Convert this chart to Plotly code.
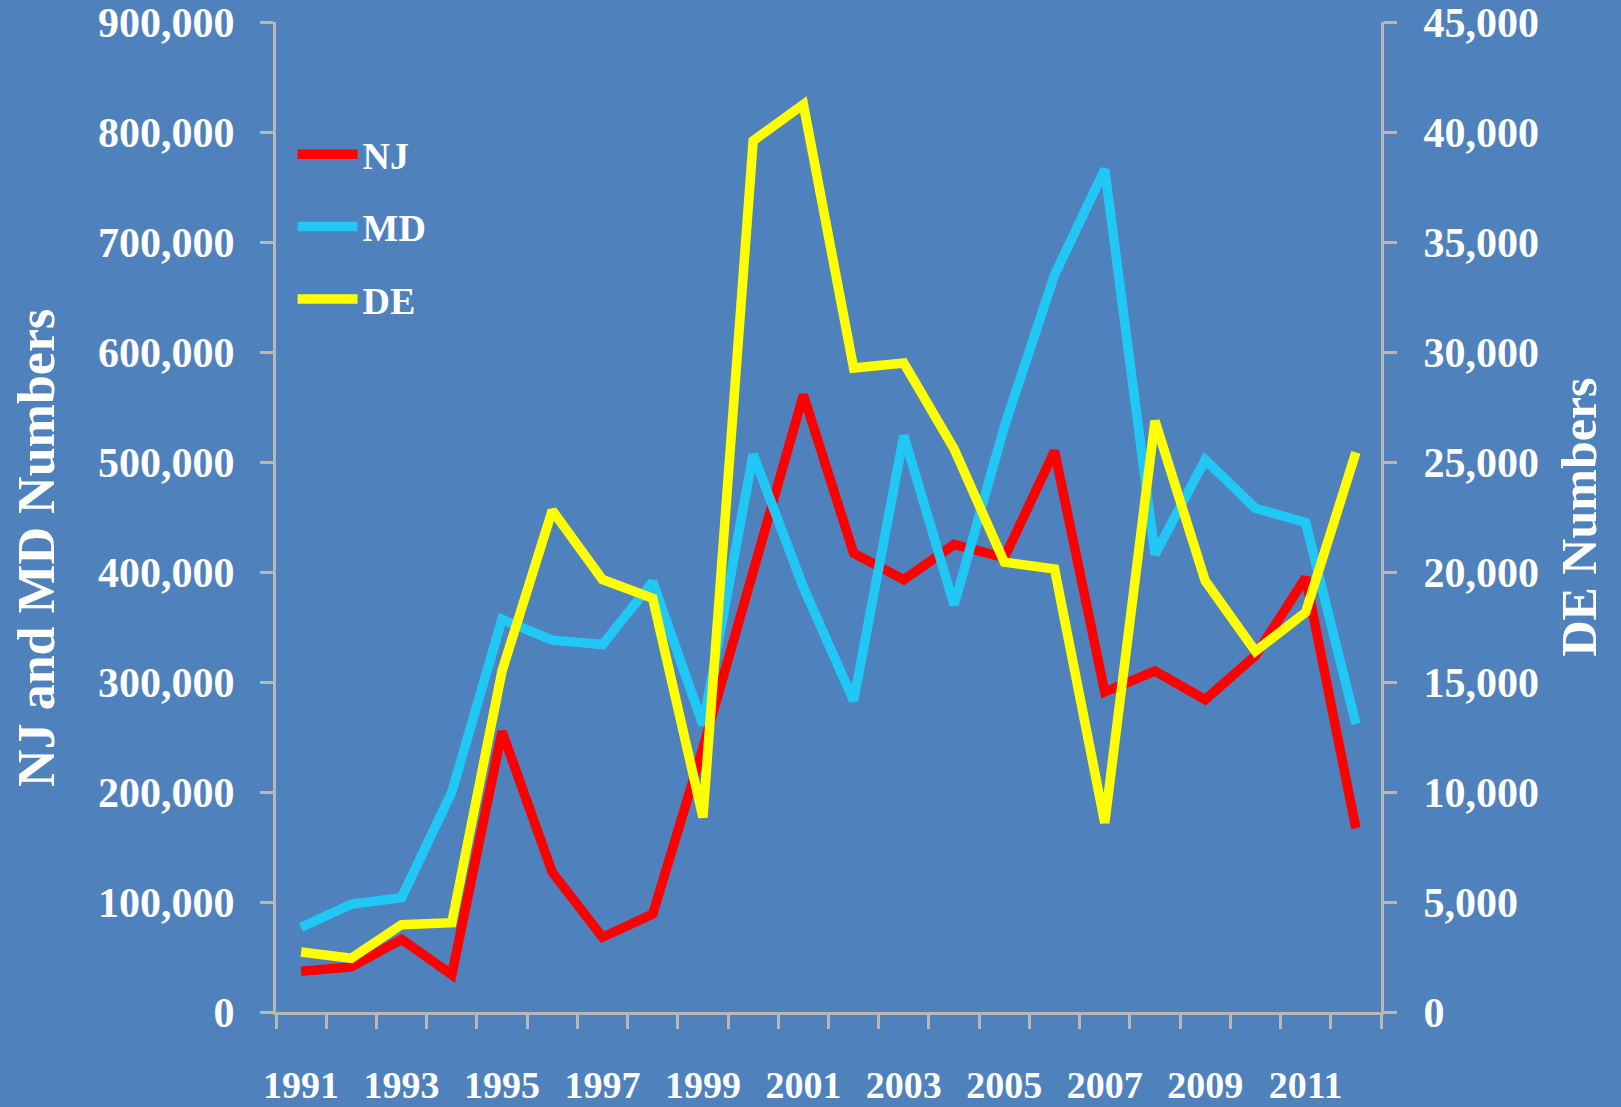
import plotly.graph_objects as go

years = list(range(1991, 2013))

nj = [37000, 41000, 66000, 34000, 255000, 127000, 68000, 89000, 240000, 400000,
      561000, 417000, 393000, 425000, 413000, 510000, 291000, 310000, 284000, 324000,
      395000, 167000]
md = [77000, 98000, 104000, 200000, 357000, 338000, 334000, 391000, 261000, 507000,
      386000, 283000, 524000, 370000, 532000, 670000, 766000, 416000, 502000, 458000,
      445000, 262000]
de = [2730, 2440, 3970, 4060, 15500, 22800, 19660, 18800, 8850, 39600,
      41250, 29270, 29500, 25600, 20450, 20140, 8600, 26870, 19600, 16400,
      18170, 25440]

label_years = [y for y in years if y % 2 == 1]
left_ticks = list(range(0, 900001, 100000))
right_ticks = list(range(0, 45001, 5000))

bg = '#4F81BD'
axis_grey = '#B7B7B7'
font_family = 'Liberation Serif'

fig = go.Figure()

fig.add_trace(go.Scatter(x=years, y=nj, name='NJ', mode='lines',
                         line=dict(color='#FF0000', width=9.5), legendgroup='nj'))
fig.add_trace(go.Scatter(x=years, y=md, name='MD', mode='lines',
                         line=dict(color='#22C8F5', width=9.5), legendgroup='md'))
fig.add_trace(go.Scatter(x=years, y=de, name='DE', mode='lines', yaxis='y2',
                         line=dict(color='#FFFF00', width=9.5), legendgroup='de'))

fig.update_layout(
    width=1621,
    height=1107,
    paper_bgcolor=bg,
    plot_bgcolor=bg,
    margin=dict(l=276, r=240, t=22, b=95),
    font=dict(family=font_family, color='white'),
    showlegend=True,
    legend=dict(
        x=0.015, y=0.898, xanchor='left', yanchor='top',
        bgcolor='rgba(0,0,0,0)',
        font=dict(size=38, family=font_family, color='white', weight='bold'),
        tracegroupgap=20,
        itemwidth=60,
    ),
    xaxis=dict(
        range=[1990.5, 2012.5],
        tickmode='array',
        tickvals=label_years,
        ticktext=[str(y) for y in label_years],
        ticks='',
        ticklabelstandoff=37,
        tickfont=dict(size=38, family=font_family, color='white', weight='bold'),
        showline=True, linecolor=axis_grey, linewidth=3,
        showgrid=False, zeroline=False,
        automargin=False,
        ticklabeloverflow='allow',
        minor=dict(tickmode='array', tickvals=[y - 0.5 for y in years] + [years[-1] + 0.5],
                   ticks='outside', ticklen=14, tickwidth=3, tickcolor=axis_grey,
                   showgrid=False),
    ),
    yaxis=dict(
        range=[0, 900000],
        tickmode='array',
        tickvals=left_ticks,
        ticktext=[f'{v:,}' for v in left_ticks],
        ticks='outside', ticklen=13, tickwidth=3, tickcolor=axis_grey,
        ticklabelstandoff=17,
        tickfont=dict(size=42, family=font_family, color='white', weight='bold'),
        showline=True, linecolor=axis_grey, linewidth=3,
        showgrid=False, zeroline=False,
        automargin=False,
        ticklabeloverflow='allow',
    ),
    yaxis2=dict(
        range=[0, 45000],
        overlaying='y', side='right',
        tickmode='array',
        tickvals=right_ticks,
        ticktext=[f'{v:,}' for v in right_ticks],
        ticks='outside', ticklen=13, tickwidth=3, tickcolor=axis_grey,
        ticklabelstandoff=18,
        tickfont=dict(size=42, family=font_family, color='white', weight='bold'),
        showline=True, linecolor=axis_grey, linewidth=3,
        showgrid=False, zeroline=False,
        automargin=False,
        ticklabeloverflow='allow',
        title=dict(text='DE Numbers', standoff=24,
                   font=dict(size=50, family=font_family, color='white', weight='bold')),
    ),
    annotations=[dict(
        text='NJ and MD Numbers', textangle=-90,
        xref='paper', yref='paper', x=-0.217, y=0.469,
        xanchor='center', yanchor='middle', showarrow=False,
        font=dict(size=52, family=font_family, color='white', weight='bold'),
    )],
)

fig.write_html("out.html", config={'displayModeBar': False},
               post_script="document.body.style.margin='0';document.body.style.overflow='hidden';")
